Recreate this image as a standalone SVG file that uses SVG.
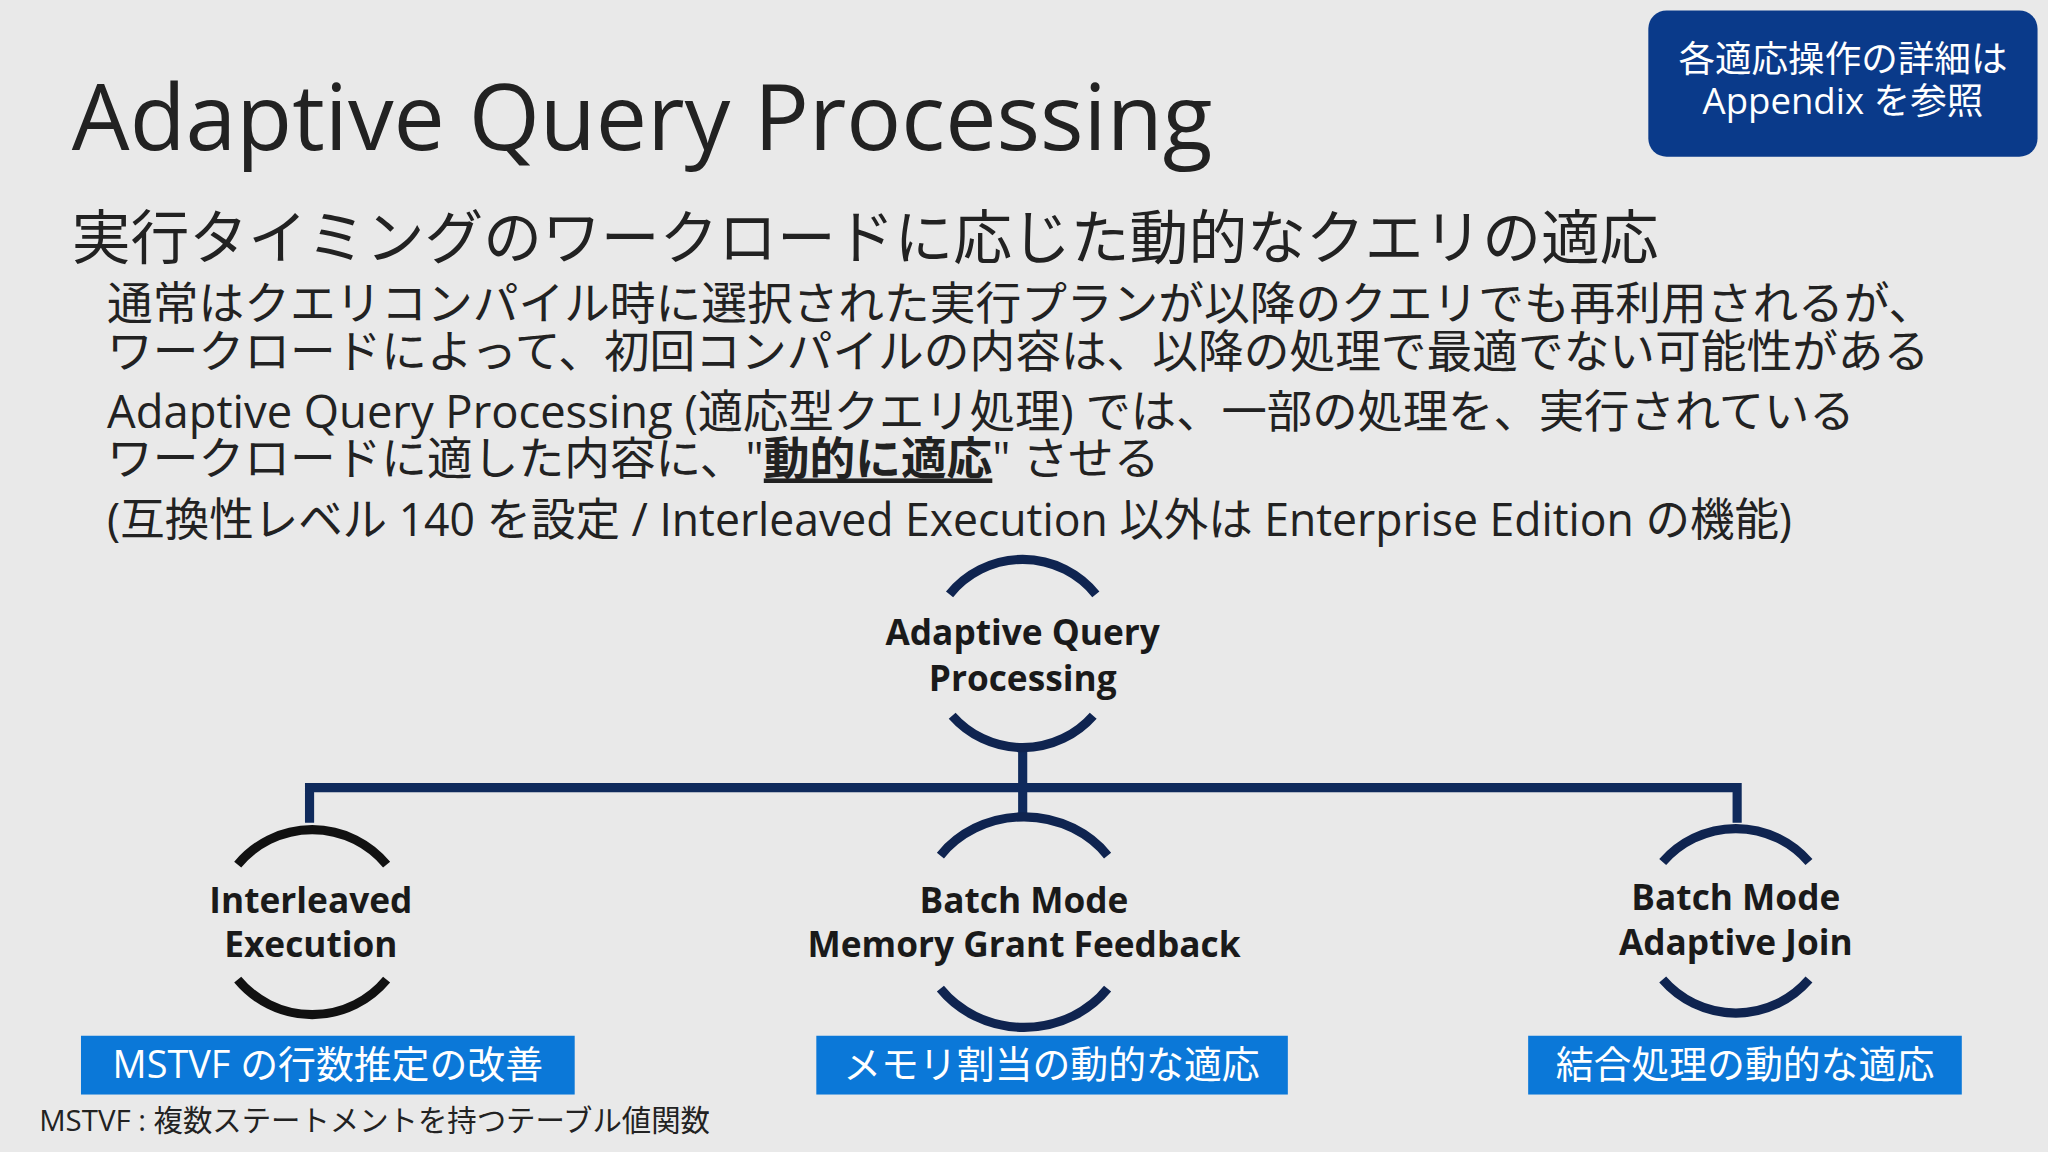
<svg xmlns="http://www.w3.org/2000/svg" width="2048" height="1152" viewBox="0 0 2048 1152">
<style>
text{font-family:"Open Sans","Noto Sans CJK JP",sans-serif;fill:#222}
.b{font-size:35px}
.n{font-size:27px;font-weight:bold;text-anchor:middle;fill:#1a1a1a}
.arc{fill:none;stroke:#0f2450;stroke-width:7}
.k{stroke:#111}
.lab{font-size:29px;fill:#fff;text-anchor:middle}
.conn{fill:none;stroke:#0f2a5c;stroke-width:7}
</style>
<rect width="2048" height="1152" fill="#e9e9e9"/>
<g transform="scale(1.30612)">
<text x="55" y="115" font-size="70">Adaptive Query Processing</text>
<g id="appendix">
<rect x="1262" y="8" width="298" height="112" rx="14" fill="#0a3a8a"/>
<text x="1411" y="55" font-size="28" text-anchor="middle" style="fill:#fff">各適応操作の詳細は</text>
<text x="1411" y="87" font-size="28" text-anchor="middle" style="fill:#fff">Appendix を参照</text>
</g>
<text x="55" y="198" font-size="45">実行タイミングのワークロードに応じた動的なクエリの適応</text>
<text class="b" x="82" y="245">通常はクエリコンパイル時に選択された実行プランが以降のクエリでも再利用されるが、</text>
<text class="b" x="82" y="282">ワークロードによって、初回コンパイルの内容は、以降の処理で最適でない可能性がある</text>
<text class="b" x="82" y="328" textLength="1338" lengthAdjust="spacingAndGlyphs">Adaptive Query Processing (適応型クエリ処理) では、一部の処理を、実行されている</text>
<text class="b" x="82" y="364">ワークロードに適した内容に、"<tspan font-weight="bold" text-decoration="underline">動的に適応</tspan>" させる</text>
<text class="b" x="82" y="410" textLength="1290" lengthAdjust="spacingAndGlyphs">(互換性レベル 140 を設定 / Interleaved Execution 以外は Enterprise Edition の機能)</text>
<g id="connectors">
<path class="conn" d="M783 572V628M237 630V603H1330V630"/>
</g>
<g id="aqp">
<path class="arc" d="M727 455A72 72 0 0 1 839 455M729 548A72 72 0 0 0 837 548"/>
<text class="n" x="783" y="494">Adaptive Query</text>
<text class="n" x="783" y="529">Processing</text>
</g>
<g id="interleaved">
<path class="arc k" d="M182 662A74 74 0 0 1 296 662M182 750A74 74 0 0 0 296 750"/>
<text class="n" x="238" y="699">Interleaved</text>
<text class="n" x="238" y="733">Execution</text>
<rect x="62" y="793" width="378" height="45" fill="#0b78d8"/>
<text class="lab" x="251" y="825">MSTVF の行数推定の改善</text>
</g>
<g id="memgrant">
<path class="arc" d="M720 655A80 74 0 0 1 848 655M720 757A80 74 0 0 0 848 757"/>
<text class="n" x="784" y="699">Batch Mode</text>
<text class="n" x="784" y="733">Memory Grant Feedback</text>
<rect x="625" y="793" width="361" height="45" fill="#0b78d8"/>
<text class="lab" x="805" y="825">メモリ割当の動的な適応</text>
</g>
<g id="adjoin">
<path class="arc" d="M1273 660A74 74 0 0 1 1385 660M1273 750A74 74 0 0 0 1385 750"/>
<text class="n" x="1329" y="697">Batch Mode</text>
<text class="n" x="1329" y="731">Adaptive Join</text>
<rect x="1170" y="793" width="332" height="45" fill="#0b78d8"/>
<text class="lab" x="1336" y="825">結合処理の動的な適応</text>
</g>
<text x="30" y="866" font-size="22.5">MSTVF : 複数ステートメントを持つテーブル値関数</text>
</g>
</svg>
